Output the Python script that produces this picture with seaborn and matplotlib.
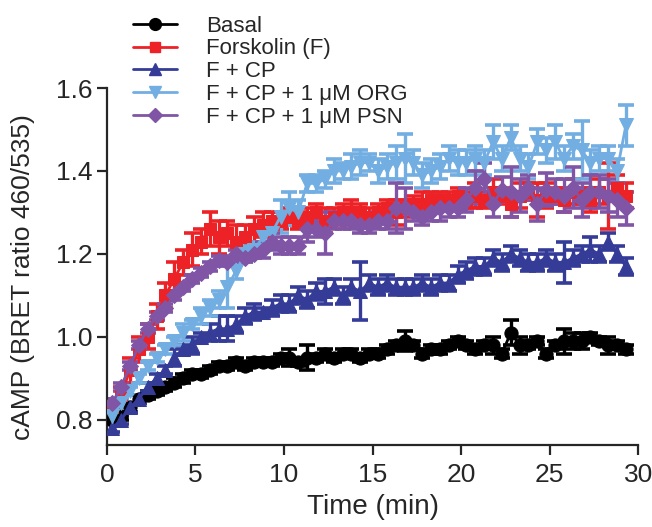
import numpy as np
import pandas as pd
import matplotlib
matplotlib.use("Agg")
import matplotlib.pyplot as plt
import seaborn as sns
from matplotlib.lines import Line2D

# sampling times (min)
time = [0.3, 0.8, 1.3, 1.8, 2.3, 2.8, 3.3, 3.8, 4.3, 4.8,
        5.3, 5.8, 6.3, 6.8, 7.3, 7.8, 8.3, 8.8, 9.3, 9.8,
        10.3, 10.8, 11.3, 11.8, 12.3, 12.8, 13.3, 13.8, 14.3, 14.8,
        15.3, 15.8, 16.3, 16.8, 17.3, 17.8, 18.3, 18.8, 19.3, 19.8,
        20.3, 20.8, 21.3, 21.8, 22.3, 22.8, 23.3, 23.8, 24.3, 24.8,
        25.3, 25.8, 26.3, 26.8, 27.3, 27.8, 28.3, 28.8, 29.3]

basal = [0.80, 0.81, 0.83, 0.85, 0.86, 0.87, 0.88, 0.89, 0.90, 0.91,
         0.91, 0.92, 0.93, 0.93, 0.94, 0.93, 0.94, 0.94, 0.94, 0.95,
         0.95, 0.94, 0.95, 0.95, 0.96, 0.95, 0.96, 0.96, 0.95, 0.96,
         0.96, 0.97, 0.98, 0.99, 0.98, 0.96, 0.97, 0.97, 0.98, 0.99,
         0.98, 0.97, 0.98, 0.98, 0.96, 1.01, 0.98, 0.98, 0.99, 0.96,
         0.98, 0.99, 0.99, 0.99, 1.00, 0.99, 0.98, 0.98, 0.97]
basal_err = [0.01, 0.01, 0.01, 0.01, 0.01, 0.01, 0.01, 0.01, 0.01, 0.01,
             0.01, 0.01, 0.01, 0.01, 0.01, 0.01, 0.01, 0.01, 0.01, 0.01,
             0.02, 0.01, 0.03, 0.01, 0.01, 0.01, 0.01, 0.01, 0.01, 0.01,
             0.01, 0.01, 0.01, 0.025, 0.01, 0.01, 0.01, 0.01, 0.01, 0.01,
             0.01, 0.01, 0.01, 0.02, 0.01, 0.03, 0.02, 0.01, 0.01, 0.01,
             0.01, 0.03, 0.02, 0.02, 0.01, 0.01, 0.02, 0.01, 0.01]

forskolin = [0.83, 0.86, 0.92, 0.97, 1.00, 1.05, 1.10, 1.14, 1.18, 1.21,
             1.23, 1.26, 1.24, 1.25, 1.23, 1.24, 1.26, 1.27, 1.28, 1.28,
             1.29, 1.28, 1.29, 1.30, 1.28, 1.29, 1.30, 1.30, 1.30, 1.29,
             1.30, 1.31, 1.30, 1.31, 1.32, 1.32, 1.33, 1.33, 1.33, 1.34,
             1.33, 1.34, 1.33, 1.35, 1.34, 1.32, 1.34, 1.35, 1.33, 1.34,
             1.34, 1.33, 1.35, 1.34, 1.33, 1.35, 1.34, 1.36, 1.34]
forskolin_err = [0.02, 0.02, 0.03, 0.03, 0.03, 0.03, 0.03, 0.04, 0.03, 0.04,
                 0.03, 0.04, 0.04, 0.03, 0.04, 0.03, 0.03, 0.03, 0.02, 0.02,
                 0.02, 0.02, 0.02, 0.02, 0.03, 0.02, 0.02, 0.03, 0.02, 0.02,
                 0.02, 0.02, 0.03, 0.02, 0.02, 0.03, 0.02, 0.02, 0.02, 0.02,
                 0.02, 0.03, 0.02, 0.03, 0.02, 0.03, 0.03, 0.02, 0.04, 0.03,
                 0.02, 0.03, 0.03, 0.02, 0.03, 0.03, 0.08, 0.03, 0.03]

f_cp = [0.78, 0.80, 0.83, 0.85, 0.88, 0.90, 0.92, 0.95, 0.97, 0.98,
        1.00, 1.01, 1.02, 1.02, 1.03, 1.05, 1.06, 1.06, 1.07, 1.08,
        1.08, 1.10, 1.09, 1.11, 1.11, 1.12, 1.10, 1.12, 1.11, 1.13,
        1.12, 1.13, 1.12, 1.12, 1.12, 1.13, 1.12, 1.13, 1.13, 1.15,
        1.16, 1.17, 1.17, 1.19, 1.18, 1.20, 1.19, 1.18, 1.18, 1.19,
        1.18, 1.18, 1.19, 1.20, 1.21, 1.20, 1.23, 1.20, 1.17]
f_cp_err = [0.01, 0.01, 0.01, 0.01, 0.01, 0.01, 0.01, 0.02, 0.01, 0.02,
            0.01, 0.02, 0.03, 0.03, 0.02, 0.02, 0.02, 0.01, 0.02, 0.02,
            0.02, 0.02, 0.02, 0.02, 0.03, 0.02, 0.02, 0.02, 0.07, 0.02,
            0.02, 0.02, 0.02, 0.02, 0.02, 0.02, 0.02, 0.02, 0.02, 0.02,
            0.02, 0.02, 0.02, 0.02, 0.02, 0.02, 0.02, 0.02, 0.02, 0.02,
            0.02, 0.05, 0.02, 0.02, 0.03, 0.02, 0.02, 0.02, 0.02]

f_cp_org = [0.81, 0.84, 0.87, 0.90, 0.93, 0.95, 0.97, 0.99, 1.01, 1.03,
            1.05, 1.07, 1.09, 1.12, 1.16, 1.20, 1.21, 1.24, 1.25, 1.29,
            1.31, 1.30, 1.37, 1.37, 1.38, 1.40, 1.40, 1.41, 1.42, 1.42,
            1.40, 1.41, 1.42, 1.43, 1.42, 1.39, 1.40, 1.41, 1.43, 1.42,
            1.42, 1.43, 1.42, 1.47, 1.43, 1.48, 1.43, 1.41, 1.47, 1.45,
            1.47, 1.43, 1.46, 1.45, 1.42, 1.43, 1.43, 1.40, 1.51]
f_cp_org_err = [0.01, 0.01, 0.01, 0.01, 0.01, 0.01, 0.01, 0.01, 0.02, 0.01,
                0.02, 0.02, 0.02, 0.05, 0.02, 0.02, 0.02, 0.02, 0.03, 0.04,
                0.04, 0.03, 0.02, 0.02, 0.02, 0.03, 0.02, 0.03, 0.03, 0.02,
                0.03, 0.03, 0.04, 0.06, 0.03, 0.03, 0.03, 0.03, 0.03, 0.03,
                0.03, 0.03, 0.03, 0.04, 0.03, 0.03, 0.03, 0.03, 0.03, 0.03,
                0.04, 0.03, 0.03, 0.07, 0.03, 0.03, 0.03, 0.03, 0.05]

f_cp_psn = [0.84, 0.88, 0.93, 0.98, 1.02, 1.05, 1.07, 1.10, 1.12, 1.14,
            1.155, 1.17, 1.185, 1.18, 1.20, 1.19, 1.20, 1.21, 1.23, 1.22,
            1.22, 1.22, 1.26, 1.26, 1.25, 1.28, 1.28, 1.28, 1.27, 1.27,
            1.28, 1.28, 1.31, 1.31, 1.30, 1.29, 1.30, 1.31, 1.31, 1.31,
            1.33, 1.36, 1.38, 1.32, 1.355, 1.35, 1.34, 1.36, 1.32, 1.355,
            1.35, 1.34, 1.36, 1.33, 1.35, 1.35, 1.34, 1.33, 1.31]
f_cp_psn_err = [0.01, 0.01, 0.01, 0.01, 0.01, 0.01, 0.01, 0.01, 0.01, 0.01,
                0.01, 0.01, 0.01, 0.01, 0.01, 0.01, 0.01, 0.02, 0.02, 0.02,
                0.02, 0.02, 0.03, 0.02, 0.05, 0.02, 0.02, 0.02, 0.02, 0.02,
                0.02, 0.02, 0.06, 0.05, 0.02, 0.02, 0.02, 0.03, 0.02, 0.02,
                0.03, 0.04, 0.04, 0.03, 0.03, 0.06, 0.04, 0.03, 0.04, 0.04,
                0.03, 0.04, 0.05, 0.04, 0.04, 0.04, 0.04, 0.04, 0.04]

labels = ["Basal", "Forskolin (F)", "F + CP",
          "F + CP + 1 \u03bcM ORG", "F + CP + 1 \u03bcM PSN"]
colors = ["#000000", "#EC2227", "#343C98", "#72AEE2", "#8155A6"]
markers = ["o", "s", "^", "v", "D"]
msizes = [9.5, 8.5, 10, 10, 8]

means = [basal, forskolin, f_cp, f_cp_org, f_cp_psn]
errs = [basal_err, forskolin_err, f_cp_err, f_cp_org_err, f_cp_psn_err]

df = pd.concat([pd.DataFrame({"time": time, "value": m, "err": e, "group": lab})
                for lab, m, e in zip(labels, means, errs)], ignore_index=True)

sns.set_style("ticks")
plt.rcParams["font.family"] = ["Liberation Sans", "DejaVu Sans"]

fig = plt.figure(figsize=(6.52, 5.27), dpi=100)
ax = fig.add_axes([0.164, 0.156, 0.815, 0.677])

for lab, c, mk, ms in zip(labels, colors, markers, msizes):
    sub = df[df["group"] == lab]
    ax.errorbar(sub["time"], sub["value"], yerr=sub["err"], fmt="none",
                ecolor=c, elinewidth=2.4, capsize=5.5, capthick=2.6, zorder=2)
    sns.lineplot(data=sub, x="time", y="value", color=c, marker=mk,
                 markersize=ms, markeredgecolor=c, linewidth=2,
                 ax=ax, legend=False, zorder=3)

ax.set_xlim(0, 30)
ax.set_ylim(0.74, 1.6)
ax.set_xticks([0, 5, 10, 15, 20, 25, 30])
ax.set_yticks([0.8, 1.0, 1.2, 1.4, 1.6])
ax.set_yticklabels(["0.8", "1.0", "1.2", "1.4", "1.6"])
ax.tick_params(axis="both", labelsize=19, width=1.6, length=7, direction="out")
ax.tick_params(axis="x", pad=6)
for s in ["left", "bottom"]:
    ax.spines[s].set_linewidth(1.6)
sns.despine(ax=ax)

ax.set_xlabel("Time (min)", fontsize=20)
ax.set_ylabel("cAMP (BRET ratio 460/535)", fontsize=19)
ax.yaxis.set_label_coords(-0.135, 0.47)
ax.xaxis.labelpad = 5

handles = [Line2D([0], [0], color=c, marker=mk, markersize=ms - 1, linewidth=2)
           for c, mk, ms in zip(colors, markers, msizes)]
fig.legend(handles, labels, loc="upper left", bbox_to_anchor=(0.18, 1.0),
           frameon=False, fontsize=16, handlelength=2.0, labelspacing=0.08,
           handletextpad=1.3, borderaxespad=0.3)

fig.savefig("out.png", dpi=100)
